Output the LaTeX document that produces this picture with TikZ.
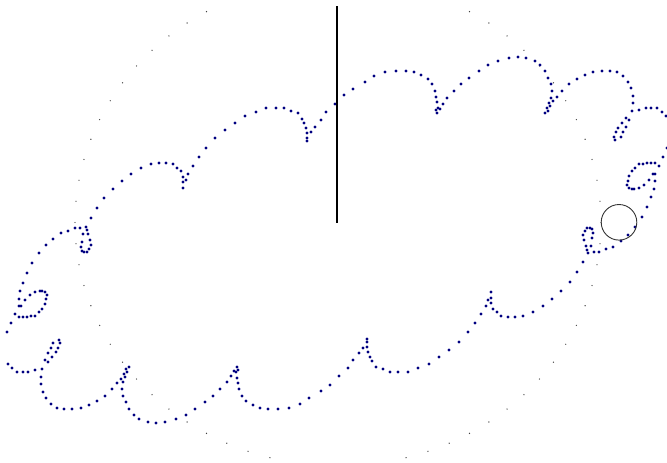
\documentclass[tikz,border=0pt]{standalone}
\begin{document}
\begin{tikzpicture}[x=1pt,y=-1pt,
  navydot/.style={fill=blue!50!black},
  graydot/.style={fill=black!75},
  radiusline/.style={line width=2pt,black},
  wheel/.style={line width=0.9pt,black!80}]
\useasboundingbox (0,0) rectangle (667,463);
% gray dotted ellipse
\foreach \t in {0,5,...,60,120,125,...,255,285,290,...,355}{
  \fill[graydot] ({338+263*cos(\t)},{222.5-243.5*sin(\t)}) circle[radius=0.7pt];
}
% navy trace (half, plus its point reflection about (337,240))
\foreach \x/\y in {335/104,344/95,353/89,365/82,374/76,385/72,396/71,406/71,414/72,421/75,428/79,432/84,435/91,436/97,437/102,438/108,437/113,436/110,440/109,443/104,447/98,454/91,461/84,469/78,479/71,488/65,498/61,509/58,518/57,526/58,535/61,540/65,545/71,548/78,551/84,552/91,551/98,549/103,547/108,545/113,548/111,550/106,553/101,557/97,562/91,569/84,577/79,585/75,593/72,602/71,610/71,617/72,623/76,628/82,631/88,633/96,633/103,632/111,629/120,626/127,623/132,621/137,615/140,614/137,616/132,618/128,622/123,626/118,639/110,646/108,651/108,657/108,662/112,666/116,667/148,663/157,659/166,655/163,651/163,647/163,643/164,639/164,635/168,632/171,629/176,628/181,627/185,629/188,632/189,634/189,639/188,644/185,649/180,653/174,655/174,655/181,654/189,651/197,647/207,642/217,635/227,628/235,621/241,613/247,606/249,599/252,594/252,588/253,587/250,586/246,584/240,583/235,585/231,587/228,590/228,592/229,593/233,592/238,591/246,583/262,577/272,570/282,561/291,552/299,543/306,533/312,523/316,515/317,508/317,501/316,497/312,493/309,491/303,491/298,491/292,488/300,486/306,481/314,475/323,468/332,459/342,449/350,439/357,429/364,418/368,408/372,398/372,390/372,383/369,376/367,372/361,370/357,368/352,367/347,367/342,367/339,363/348,359/353,353/360,348/368}{
  \fill[navydot] (\x,\y) circle[radius=1.55pt];
  \fill[navydot] ({674-\x},{480-\y}) circle[radius=1.55pt];
}
% radius line and rolling circle
\coordinate (ctr) at (337.3,222.7);
\coordinate (tip) at (337.3,6);
\draw[radiusline] (ctr) -- (tip);
\coordinate (wc) at (619,222.3);
\draw[wheel] (wc) circle[radius=17.8pt];
\end{tikzpicture}
\end{document}
